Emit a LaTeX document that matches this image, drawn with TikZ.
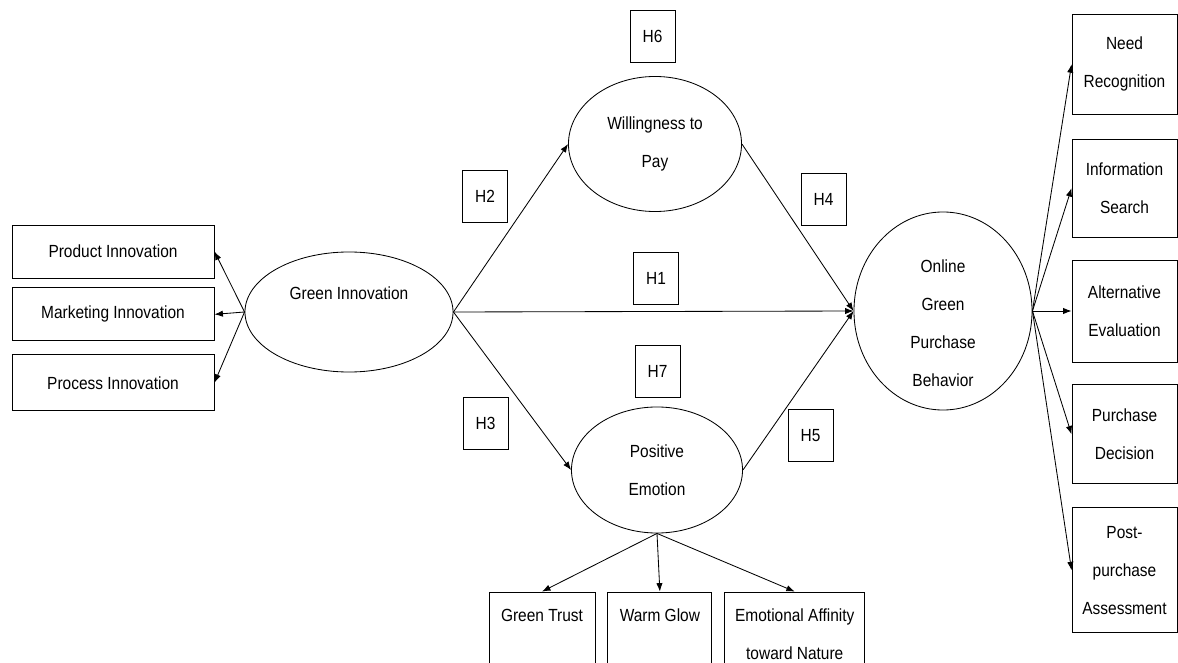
\documentclass[tikz,border=0pt]{standalone}
\usepackage{fontspec}
\setmainfont{Liberation Sans}[FakeStretch=0.88]
\usetikzlibrary{arrows.meta,positioning,shapes.geometric}

\begin{document}
\begin{tikzpicture}[x=0.025cm,y=-0.025cm,>={Latex[length=6pt,width=4.5pt]},line width=0.6pt,
  every node/.style={align=center,font=\fontsize{12.5}{27}\selectfont},
  box/.style={draw,rectangle,inner sep=0pt},
  latent/.style={draw,ellipse,inner sep=0pt},
  hyp/.style={draw,rectangle,inner sep=0pt,minimum width=1.125cm,minimum height=1.3cm},
  link/.style={->}]
  \useasboundingbox (0,0) rectangle (1178,663);
  \clip (0,0) rectangle (1178,663);

  \node[box,minimum width=5.05cm,minimum height=1.325cm] (prod) at (113,251.5) {Product Innovation};
  \node[box,minimum width=5.05cm,minimum height=1.325cm,below=0.225cm of prod] (mark) {Marketing Innovation};
  \node[box,minimum width=5.05cm,minimum height=1.4cm,below=0.325cm of mark] (proc) {Process Innovation};

  \node[latent,minimum width=5.2cm,minimum height=3cm] (gi) at (349,312) {Green Innovation\\\mbox{}};
  \node[latent,minimum width=4.325cm,minimum height=3.375cm] (wtp) at (655,144) {Willingness to\\Pay};
  \node[latent,minimum width=4.275cm,minimum height=3.15cm] (pe) at (657,470) {Positive\\Emotion};
  \node[latent,inner sep=-0.5cm,minimum width=4.45cm,minimum height=4.95cm] (ogpb) at (943,311) {\mbox{}\\[-1pt]Online\\Green\\Purchase\\Behavior};

  \node[hyp] (h6) at (652.5,36.5) {H6};
  \node[hyp] (h2) at (485,196) {H2};
  \node[hyp] (h4) at (823.5,199) {H4};
  \node[hyp] (h1) at (656,278) {H1};
  \node[hyp] (h7) at (657.5,371) {H7};
  \node[hyp] (h3) at (485.5,423) {H3};
  \node[hyp] (h5) at (810.5,435.5) {H5};

  \node[box,minimum width=2.625cm,minimum height=2.55cm] (alt) at (1124.5,311) {Alternative\\Evaluation};
  \node[box,minimum width=2.625cm,minimum height=2.45cm,above=0.55cm of alt] (info) {Information\\Search};
  \node[box,minimum width=2.625cm,minimum height=2.5cm,above=0.6cm of info] (need) {Need\\Recognition};
  \node[box,minimum width=2.625cm,minimum height=2.475cm,below=0.55cm of alt] (dec) {Purchase\\Decision};
  \node[box,minimum width=2.625cm,minimum height=3.125cm,below=0.575cm of dec] (post) {Post-\\purchase\\Assessment};

  \node[box,minimum width=2.65cm,minimum height=2.1cm] (trust) at (542,634) {Green Trust\\\mbox{}};
  \node[box,minimum width=2.6cm,minimum height=2.1cm,right=0.3cm of trust] (glow) {Warm Glow\\\mbox{}};
  \node[box,minimum width=3.5cm,minimum height=2.1cm,right=0.3cm of glow] (aff) {Emotional Affinity\\toward Nature};

  \draw[link] (gi.west) -- (prod.east);
  \draw[link] (gi.west) -- (mark.east);
  \draw[link] (gi.west) -- (proc.east);
  \draw[link] (gi.east) -- (wtp.west);
  \draw[link] (gi.east) -- (pe.west);
  \draw[link] (gi.east) -- (ogpb.west);
  \draw[link] (wtp.east) -- (ogpb.west);
  \draw[link] (pe.east) -- (ogpb.west);
  \draw[link] (ogpb.east) -- (need.west);
  \draw[link] (ogpb.east) -- (info.west);
  \draw[link] (ogpb.east) -- (alt.west);
  \draw[link] (ogpb.east) -- (dec.west);
  \draw[link] (ogpb.east) -- (post.west);
  \draw[link] (pe.south) -- (trust.north);
  \draw[link] (pe.south) -- (glow.north);
  \draw[link] (pe.south) -- (aff.north);
\end{tikzpicture}
\end{document}
